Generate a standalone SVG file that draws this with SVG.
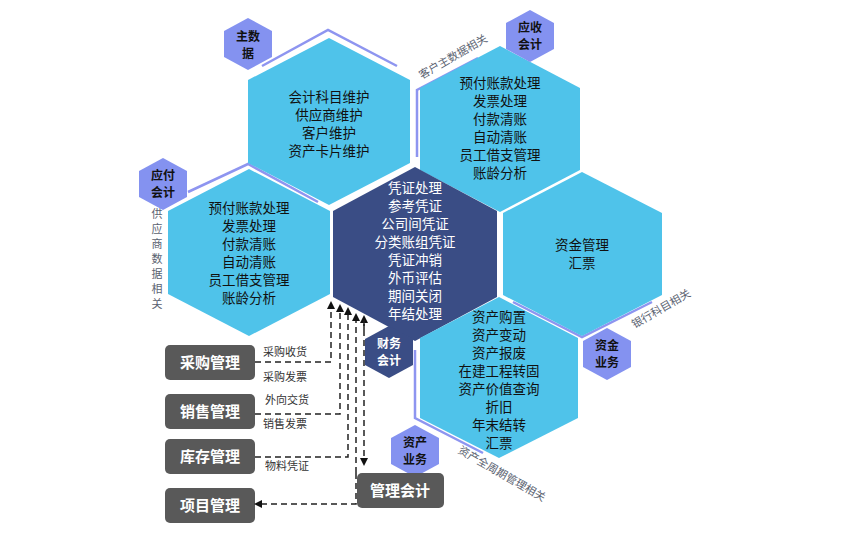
<svg xmlns="http://www.w3.org/2000/svg" width="850" height="550" viewBox="0 0 850 550">
<defs>
<style>
text{font-family:"Noto Sans CJK SC","Liberation Sans",sans-serif;text-anchor:middle}
.hx{fill:#4fc3ea}
.ht{font-size:13.5px;fill:#111}
.wt{font-size:13.5px;fill:#fff}
.bd{fill:#8492f0}
.bt{font-size:12px;font-weight:bold;fill:#111}
.ol{fill:none;stroke:#8e95f0;stroke-width:2.5}
.rl{font-size:11px;fill:#5a6270}
.gb{fill:#595959}
.gt{font-size:15px;font-weight:bold;fill:#fff}
.dl{fill:none;stroke:#222;stroke-width:1.5;stroke-dasharray:6,4}
.sl{font-size:11px;fill:#333}
</style>
<marker id="ar" markerWidth="8" markerHeight="8" refX="6" refY="4" orient="auto" markerUnits="userSpaceOnUse"><path d="M0,0L8,4L0,8z" fill="#111"/></marker>
</defs>
<rect width="850" height="550" fill="#fff"/>
<g id="outlines">
<polyline class="ol" points="262,66 328,30 397,66"/>
<polyline class="ol" points="417,157 417,90 478,58"/>
<polyline class="ol" points="188,192 248,164 318,202"/>
<polyline class="ol" points="513,302 582,337 652,302"/>
<polyline class="ol" points="415,350 415,418 483,453"/>
<text class="rl" transform="translate(455,60) rotate(-30)">客户主数据相关</text>
<text class="rl" transform="translate(663,312) rotate(-30)">银行科目相关</text>
<text class="rl" transform="translate(500,477) rotate(30)">资产全周期管理相关</text>
<text class="rl" x="157" y="218">供</text><text class="rl" x="157" y="233">应</text><text class="rl" x="157" y="248">商</text><text class="rl" x="157" y="263">数</text><text class="rl" x="157" y="278">据</text><text class="rl" x="157" y="293">相</text><text class="rl" x="157" y="308">关</text>
</g>
<g id="hex-master">
<polygon class="hx" points="329,38 410,80 410,163 329,205 248,163 248,80"/>
<text class="ht" x="329" y="102">会计科目维护</text><text class="ht" x="329" y="120">供应商维护</text><text class="ht" x="329" y="138">客户维护</text><text class="ht" x="329" y="156">资产卡片维护</text>
</g>
<g id="hex-ar">
<polygon class="hx" points="500,46 580,88 580,170 500,212 420,170 420,88"/>
<text class="ht" x="500" y="88">预付账款处理</text><text class="ht" x="500" y="106">发票处理</text><text class="ht" x="500" y="124">付款清账</text><text class="ht" x="500" y="142">自动清账</text><text class="ht" x="500" y="160">员工借支管理</text><text class="ht" x="500" y="178">账龄分析</text>
</g>
<g id="hex-ap">
<polygon class="hx" points="249,169 330,211 330,294 249,336 168,294 168,211"/>
<text class="ht" x="249" y="213">预付账款处理</text><text class="ht" x="249" y="231">发票处理</text><text class="ht" x="249" y="249">付款清账</text><text class="ht" x="249" y="267">自动清账</text><text class="ht" x="249" y="285">员工借支管理</text><text class="ht" x="249" y="303">账龄分析</text>
</g>
<g id="hex-gl">
<polygon fill="#3a4d85" points="415,167 497,211 497,297 415,341 333,297 333,211"/>
<text class="wt" x="415" y="193">凭证处理</text><text class="wt" x="415" y="211">参考凭证</text><text class="wt" x="415" y="229">公司间凭证</text><text class="wt" x="415" y="247">分类账组凭证</text><text class="wt" x="415" y="265">凭证冲销</text><text class="wt" x="415" y="283">外币评估</text><text class="wt" x="415" y="301">期间关闭</text><text class="wt" x="415" y="319">年结处理</text>
</g>
<g id="hex-fund">
<polygon class="hx" points="582,172 662,213 662,295 582,336 503,295 503,213"/>
<text class="ht" x="582" y="250">资金管理</text><text class="ht" x="582" y="268">汇票</text>
</g>
<g id="hex-asset">
<polygon class="hx" points="499,297 578,338 578,418 499,458 420,418 420,338"/>
<text class="ht" x="499" y="322">资产购置</text><text class="ht" x="499" y="340">资产变动</text><text class="ht" x="499" y="358">资产报废</text><text class="ht" x="499" y="376">在建工程转固</text><text class="ht" x="499" y="394">资产价值查询</text><text class="ht" x="499" y="412">折旧</text><text class="ht" x="499" y="430">年末结转</text><text class="ht" x="499" y="448">汇票</text>
</g>
<g id="badge-master"><polygon class="bd" points="248,18 272,31 272,57 248,70 224,57 224,31"/><text class="bt" x="248" y="41">主数</text><text class="bt" x="248" y="58">据</text></g>
<g id="badge-ar"><polygon class="bd" points="530,10 554,23 554,49 530,62 506,49 506,23"/><text class="bt" x="530" y="32">应收</text><text class="bt" x="530" y="49">会计</text></g>
<g id="badge-ap"><polygon class="bd" points="163,158 187,171 187,197 163,210 139,197 139,171"/><text class="bt" x="163" y="180">应付</text><text class="bt" x="163" y="197">会计</text></g>
<g id="badge-fa"><polygon fill="#3a4d85" points="389,326 413,339 413,365 389,378 365,365 365,339"/><text class="bt" style="fill:#fff" x="389" y="348">财务</text><text class="bt" style="fill:#fff" x="389" y="365">会计</text></g>
<g id="badge-fund"><polygon class="bd" points="607,328 631,341 631,367 607,380 583,367 583,341"/><text class="bt" x="607" y="350">资金</text><text class="bt" x="607" y="367">业务</text></g>
<g id="badge-asset"><polygon class="bd" points="415,425 439,438 439,464 415,477 391,464 391,438"/><text class="bt" x="415" y="447">资产</text><text class="bt" x="415" y="464">业务</text></g>
<g id="box-purchase"><rect class="gb" x="165" y="345" width="90" height="35" rx="5"/><text class="gt" x="210" y="368">采购管理</text></g>
<g id="box-sales"><rect class="gb" x="165" y="394" width="90" height="35" rx="5"/><text class="gt" x="210" y="417">销售管理</text></g>
<g id="box-inventory"><rect class="gb" x="165" y="439" width="90" height="35" rx="5"/><text class="gt" x="210" y="462">库存管理</text></g>
<g id="box-project"><rect class="gb" x="165" y="488" width="90" height="35" rx="5"/><text class="gt" x="210" y="511">项目管理</text></g>
<g id="box-mgmt"><rect class="gb" x="357" y="473" width="87" height="35" rx="5"/><text class="gt" x="400" y="496">管理会计</text></g>
<g id="connectors">
<polyline class="dl" points="255,362 331,362 331,303" marker-end="url(#ar)"/>
<polyline class="dl" points="255,414 340,414 340,306" marker-end="url(#ar)"/>
<polyline class="dl" points="255,457 348,457 348,309" marker-end="url(#ar)"/>
<polyline class="dl" points="356,473 356,315" marker-end="url(#ar)"/>
<polyline class="dl" points="364,330 364,317" marker-end="url(#ar)"/>
<polyline class="dl" points="364,320 364,464" marker-end="url(#ar)"/>
<polyline class="dl" points="356,473 356,504 256,504" marker-end="url(#ar)"/>
<text class="sl" x="285" y="356">采购收货</text>
<text class="sl" x="285" y="381">采购发票</text>
<text class="sl" x="287" y="404">外向交货</text>
<text class="sl" x="285" y="428">销售发票</text>
<text class="sl" x="287" y="470">物料凭证</text>
</g>
</svg>
